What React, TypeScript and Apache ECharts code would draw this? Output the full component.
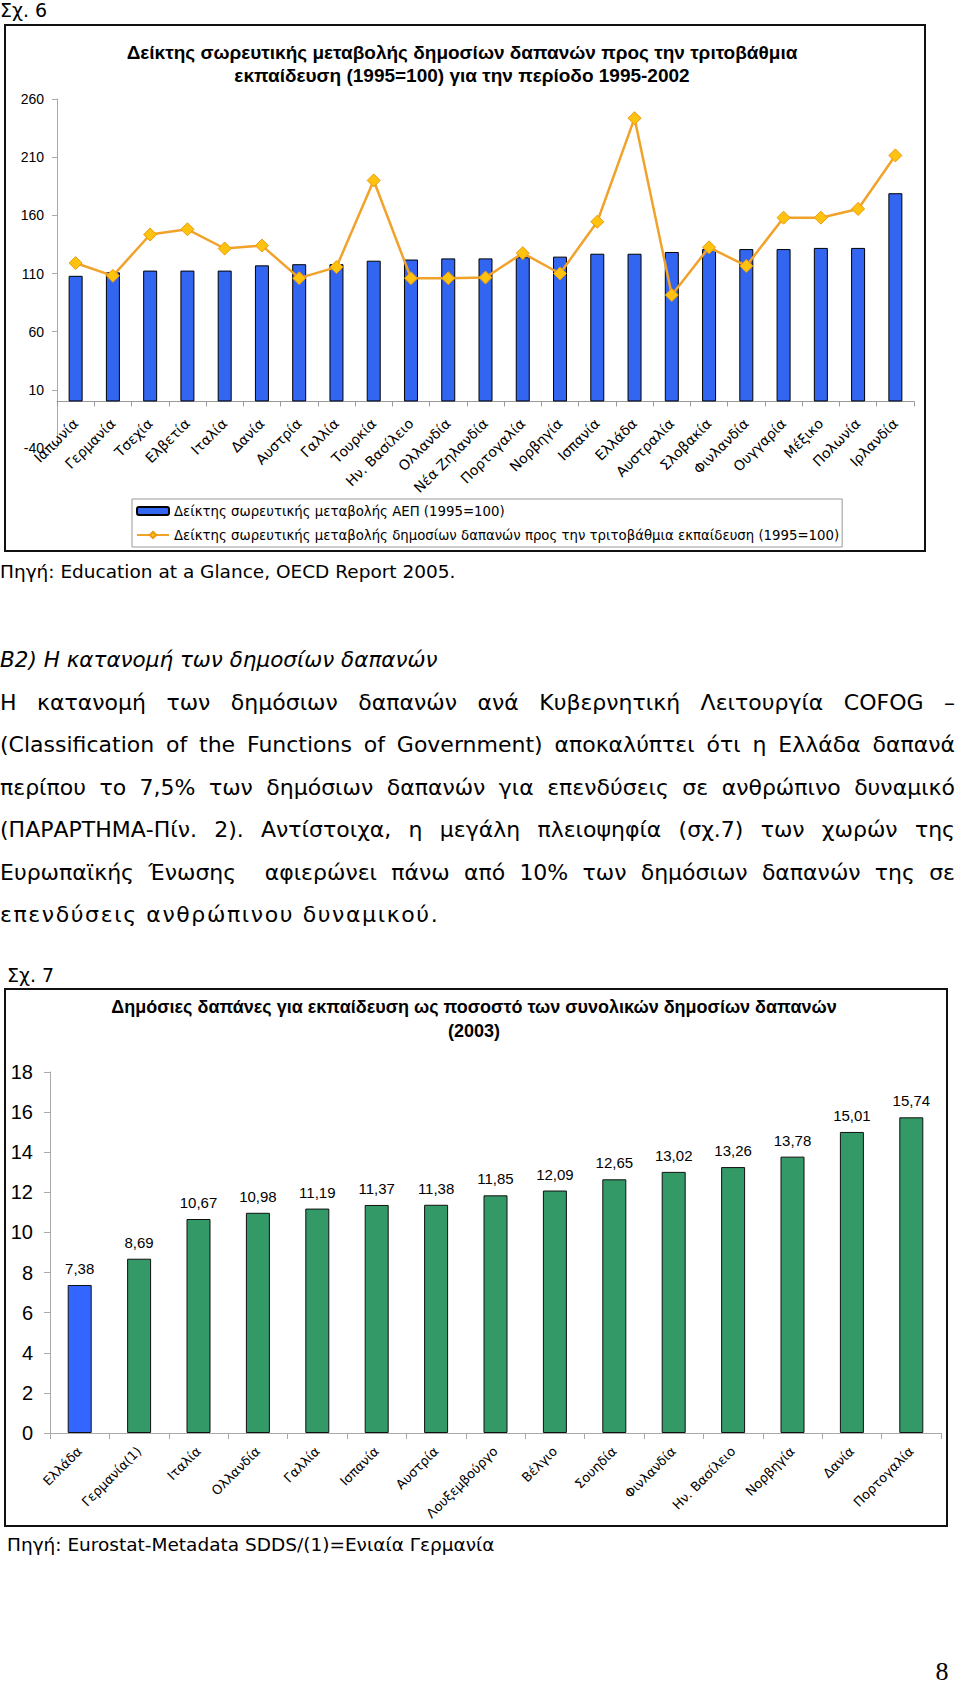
import React, { useEffect, useRef } from "react";
import * as echarts from "echarts";

// ---------- Σχ. 6 data ----------
const countries6 = [
  "Ιαπωνία", "Γερμανία", "Τσεχία", "Ελβετία", "Ιταλία", "Δανία", "Αυστρία", "Γαλλία",
  "Τουρκία", "Ην. Βασίλειο", "Ολλανδία", "Νέα Ζηλανδία", "Πορτογαλία", "Νορβηγία",
  "Ισπανία", "Ελλάδα", "Αυστραλία", "Σλοβακία", "Φινλανδία", "Ουγγαρία", "Μέξικο",
  "Πολωνία", "Ιρλανδία",
];
const gdpIndex = [
  108, 111, 112.5, 112.5, 112.5, 117, 118, 118, 121, 122, 123, 123, 124, 124.5,
  127, 127, 128.5, 131, 131, 131, 132, 132, 179,
];
const eduIndex = [
  119, 108, 143.5, 148, 131.5, 134, 106, 115.5, 190, 106, 106, 106.5, 127.5, 110,
  154.5, 243.5, 91.5, 132.5, 116.5, 158, 158, 165.5, 211.5,
];
const gdpName = "Δείκτης σωρευτικής μεταβολής ΑΕΠ (1995=100)";
const eduName =
  "Δείκτης σωρευτικής μεταβολής δημοσίων δαπανών προς την τριτοβάθμια εκπαίδευση (1995=100)";
const title6 =
  "Δείκτης σωρευτικής μεταβολής δημοσίων δαπανών προς την τριτοβάθμια\nεκπαίδευση (1995=100) για την περίοδο 1995-2002";
const y6Min = -40;
const y6Max = 260;
const y6Step = 50;

// ---------- Σχ. 7 data ----------
const countries7 = [
  "Ελλάδα", "Γερμανία(1)", "Ιταλία", "Ολλανδία", "Γαλλία", "Ισπανία", "Αυστρία",
  "Λουξεμβούργο", "Βέλγιο", "Σουηδία", "Φινλανδία", "Ην. Βασίλειο", "Νορβηγία",
  "Δανία", "Πορτογαλία",
];
const eduShare = [
  7.38, 8.69, 10.67, 10.98, 11.19, 11.37, 11.38, 11.85, 12.09, 12.65, 13.02, 13.26,
  13.78, 15.01, 15.74,
];
const title7 =
  "Δημόσιες δαπάνες για εκπαίδευση ως ποσοστό των συνολικών δημοσίων δαπανών\n(2003)";
const y7Min = 0;
const y7Max = 18;
const y7Step = 2;

// ---------- page text ----------
const fig6Label = "Σχ. 6";
const fig7Label = "Σχ. 7";
const source6 = "Πηγή: Education at a Glance, OECD Report 2005.";
const source7 = "Πηγή: Eurostat-Metadata SDDS/(1)=Ενιαία Γερμανία";
const heading = "B2) Η κατανομή των δημοσίων δαπανών";
const paragraphLines = [
  "Η κατανομή των δημόσιων δαπανών ανά Κυβερνητική Λειτουργία COFOG –",
  "(Classification of the Functions of Government) αποκαλύπτει ότι η Ελλάδα δαπανά",
  "περίπου το 7,5% των δημόσιων δαπανών για επενδύσεις σε ανθρώπινο δυναμικό",
  "(ΠΑΡΑΡΤΗΜΑ-Πίν. 2). Αντίστοιχα, η μεγάλη πλειοψηφία (σχ.7) των χωρών της",
  "Ευρωπαϊκής Ένωσης\u00A0 αφιερώνει πάνω από 10% των δημόσιων δαπανών της σε",
];
const lastLine = "επενδύσεις ανθρώπινου δυναμικού.";
const pageNumber = "8";

const SANS = "DejaVu Sans";
const ARIAL = "Liberation Sans";

function Chart6() {
  const ref = useRef<HTMLDivElement>(null);
  useEffect(() => {
    const chart = echarts.init(ref.current!, null, { renderer: "svg" });
    chart.setOption({
      animation: false,
      title: {
        text: title6,
        left: 462,
        top: 41,
        padding: 0,
        textAlign: "center",
        textStyle: {
          fontFamily: ARIAL,
          fontWeight: "bold",
          fontSize: 19,
          lineHeight: 23,
          color: "#000",
        },
      },
      graphic: [
        {
          type: "rect",
          shape: { x: 5, y: 25, width: 920, height: 526 },
          style: { fill: "none", stroke: "#111", lineWidth: 2 },
          silent: true,
        },
      ],
      legend: {
        orient: "vertical",
        left: 132,
        top: 499,
        padding: [4, 3, 4, 4],
        itemGap: 8,
        itemWidth: 32,
        itemHeight: 8,
        borderColor: "#999",
        borderWidth: 1,
        textStyle: { fontFamily: SANS, fontSize: 13.3, lineHeight: 16, color: "#000" },
        data: [gdpName, eduName],
      },
      grid: { left: 57, right: 46, top: 99, bottom: 112, containLabel: false },
      xAxis: {
        type: "category",
        data: countries6,
        boundaryGap: true,
        axisLine: { onZero: true, lineStyle: { color: "#999" } },
        axisTick: { show: true, length: 5, lineStyle: { color: "#999" } },
        axisLabel: {
          rotate: 45,
          interval: 0,
          margin: -27,
          fontFamily: SANS,
          fontSize: 14,
          color: "#000",
        },
      },
      yAxis: {
        type: "value",
        min: y6Min,
        max: y6Max,
        interval: y6Step,
        axisLine: { show: true, lineStyle: { color: "#aaa" } },
        axisTick: { show: true, length: 5, lineStyle: { color: "#aaa" } },
        splitLine: { show: false },
        axisLabel: { fontFamily: ARIAL, fontSize: 14, margin: 13, color: "#000" },
      },
      series: [
        {
          name: gdpName,
          type: "bar",
          data: gdpIndex,
          barWidth: 14,
          itemStyle: { color: "#3366F0", borderColor: "#000", borderWidth: 1 },
        },
        {
          name: eduName,
          type: "line",
          data: eduIndex,
          symbol: "diamond",
          symbolSize: 13,
          lineStyle: { color: "#F0A22A", width: 2.5 },
          itemStyle: { color: "#FFC20E", borderColor: "#E99A10", borderWidth: 1 },
        },
      ],
    });
    return () => chart.dispose();
  }, []);
  return (
    <div
      ref={ref}
      style={{ position: "absolute", left: 0, top: 0, width: 960, height: 560 }}
    />
  );
}

function Chart7() {
  const ref = useRef<HTMLDivElement>(null);
  useEffect(() => {
    const chart = echarts.init(ref.current!, null, { renderer: "svg" });
    chart.setOption({
      animation: false,
      title: {
        text: title7,
        left: 474,
        top: 35,
        padding: 0,
        textAlign: "center",
        textStyle: {
          fontFamily: ARIAL,
          fontWeight: "bold",
          fontSize: 18,
          lineHeight: 24,
          color: "#000",
        },
      },
      graphic: [
        {
          type: "rect",
          shape: { x: 5, y: 29, width: 942, height: 537 },
          style: { fill: "none", stroke: "#111", lineWidth: 2 },
          silent: true,
        },
      ],
      grid: { left: 50, right: 19, top: 112, bottom: 107, containLabel: false },
      xAxis: {
        type: "category",
        data: countries7,
        boundaryGap: true,
        axisLine: { lineStyle: { color: "#aaa" } },
        axisTick: { show: true, length: 6, lineStyle: { color: "#aaa" } },
        axisLabel: {
          rotate: 45,
          interval: 0,
          margin: 16,
          fontFamily: SANS,
          fontSize: 13,
          color: "#000",
        },
      },
      yAxis: {
        type: "value",
        min: y7Min,
        max: y7Max,
        interval: y7Step,
        axisLine: { show: true, lineStyle: { color: "#aaa" } },
        axisTick: { show: true, length: 6, lineStyle: { color: "#aaa" } },
        splitLine: { show: false },
        axisLabel: { fontFamily: ARIAL, fontSize: 20, margin: 17, color: "#000" },
      },
      series: [
        {
          type: "bar",
          data: eduShare,
          barWidth: 24,
          itemStyle: {
            color: (p: any) =>
              countries7[p.dataIndex] === "Ελλάδα" ? "#3366FF" : "#339966",
            borderColor: "#111",
            borderWidth: 1,
          },
          label: {
            show: true,
            position: "top",
            distance: 9,
            fontFamily: ARIAL,
            fontSize: 15,
            color: "#000",
            formatter: (p: any) => Number(p.value).toFixed(2).replace(".", ","),
          },
        },
      ],
    });
    return () => chart.dispose();
  }, []);
  return (
    <div
      ref={ref}
      style={{ position: "absolute", left: 0, top: 960, width: 960, height: 580 }}
    />
  );
}

function TextAt(props: {
  x: number;
  cy: number;
  size: number;
  lh: number;
  children: React.ReactNode;
  style?: React.CSSProperties;
}) {
  return (
    <div
      style={{
        position: "absolute",
        left: props.x,
        top: props.cy - props.lh / 2,
        fontFamily: SANS,
        fontSize: props.size,
        lineHeight: props.lh + "px",
        whiteSpace: "nowrap",
        color: "#000",
        ...props.style,
      }}
    >
      {props.children}
    </div>
  );
}

export default function App() {
  const lineStart = 660;
  const lineStep = 42.5;
  return (
    <div
      style={{
        position: "absolute",
        left: 0,
        top: 0,
        width: 960,
        height: 1686,
        background: "#fff",
        overflow: "hidden",
      }}
    >
      <TextAt x={0} cy={10} size={19} lh={22}>{fig6Label}</TextAt>
      <Chart6 />
      <TextAt x={0} cy={572} size={18.5} lh={22}>{source6}</TextAt>
      <TextAt x={0} cy={lineStart} size={21.5} lh={28} style={{ fontStyle: "italic" }}>
        {heading}
      </TextAt>
      {paragraphLines.map((t, i) => (
        <TextAt
          key={i}
          x={0}
          cy={lineStart + lineStep * (i + 1)}
          size={22}
          lh={28}
          style={{
            width: 955,
            whiteSpace: "normal",
            textAlign: "justify",
            textAlignLast: "justify",
          }}
        >
          {t}
        </TextAt>
      ))}
      <TextAt
        x={0}
        cy={lineStart + lineStep * 6}
        size={22}
        lh={28}
        style={{ letterSpacing: 1.6 }}
      >
        {lastLine}
      </TextAt>
      <TextAt x={7} cy={975} size={19} lh={22}>{fig7Label}</TextAt>
      <Chart7 />
      <TextAt x={7} cy={1545} size={18.5} lh={22}>{source7}</TextAt>
      <TextAt
        x={930}
        cy={1672}
        size={26}
        lh={22}
        style={{ fontFamily: "Liberation Serif", width: 24, textAlign: "center" }}
      >
        {pageNumber}
      </TextAt>
    </div>
  );
}
